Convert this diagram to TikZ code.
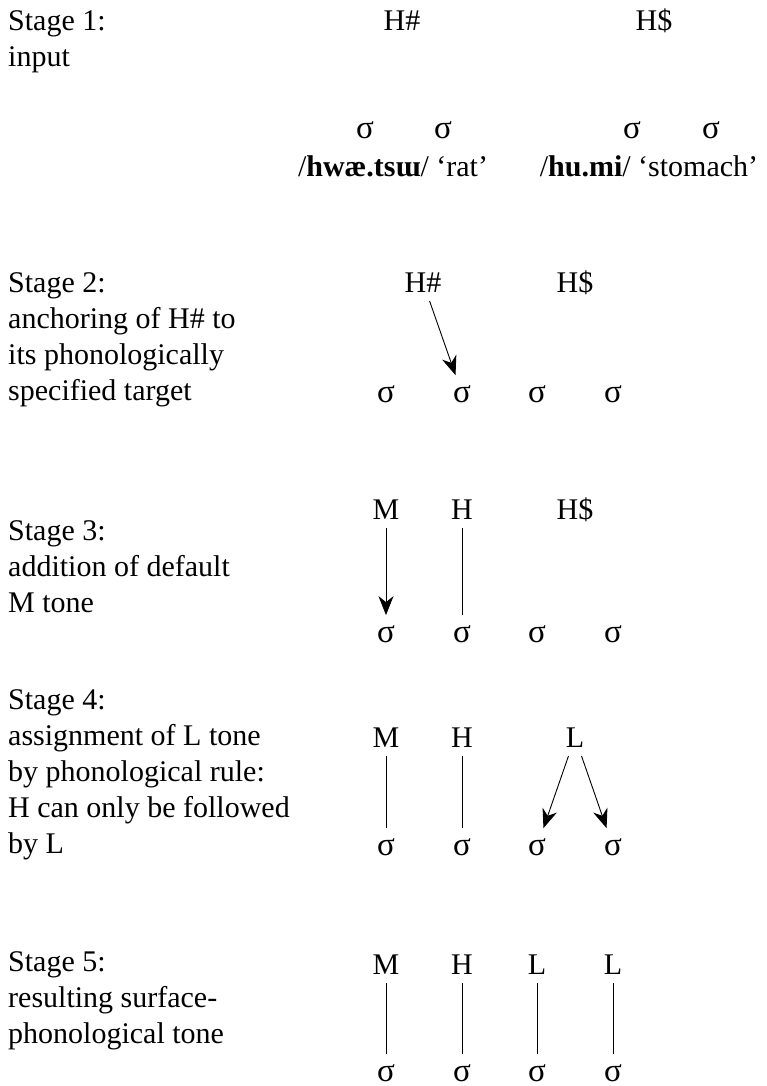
\documentclass[tikz,border=0pt]{standalone}
\usepackage{fontspec}
\setmainfont{Liberation Serif}
\usetikzlibrary{arrows.meta}

\begin{document}
\begin{tikzpicture}[x=1pt,y=-1pt,
  every node/.style={font=\fontsize{30}{36}\selectfont},
  stage/.style={anchor=base west,align=left,inner sep=0pt},
  tone/.style={anchor=base,inner sep=0pt,outer sep=9pt},
  syl/.style={anchor=base,inner sep=0pt,outer sep=10pt,font=\fontsize{33}{36}\selectfont},
  gloss/.style={anchor=base,inner sep=0pt},
  assoc/.style={line width=0.9pt},
  arr/.style={assoc,-{Stealth[length=19pt,width=15pt,inset=6pt]}}]
\useasboundingbox (0,0) rectangle (766,1086);

% base of a stage node = its last line
\node[stage] (st1) at (8,67) {Stage 1:\\input};
\node[tone] (h1a) at (402,31) {H\#};
\node[tone] (h1b) at (654,31) {H\$};
\node[syl] (s1a) at (365,139) {σ};
\node[syl] (s1b) at (443,139) {σ};
\node[syl] (s1c) at (632,139) {σ};
\node[syl] (s1d) at (711,139) {σ};
\node[gloss] (g1a) at (393,177) {/\textbf{hwæ.tsɯ}/ ‘rat’};
\node[gloss] (g1b) at (649,177) {/\textbf{hu.mi}/ ‘stomach’};


\node[stage] (st2) at (8,400) {Stage 2:\\anchoring of H\# to\\its phonologically\\specified target};
\node[tone] (h2a) at (423,292) {H\#};
\node[tone] (h2b) at (575,292) {H\$};
\node[syl] (s2a) at (386,402) {σ};
\node[syl] (s2b) at (462,402) {σ};
\node[syl] (s2c) at (537,402) {σ};
\node[syl] (s2d) at (613,402) {σ};
\draw [arr] (h2a) -- (s2b);


\node[stage] (st3) at (8,612) {Stage 3:\\addition of default\\M tone};
\node[tone] (m3) at (386,519) {M};
\node[tone] (h3a) at (462,519) {H};
\node[tone] (h3b) at (575,519) {H\$};
\node[syl] (s3a) at (386,642) {σ};
\node[syl] (s3b) at (462,642) {σ};
\node[syl] (s3c) at (537,642) {σ};
\node[syl] (s3d) at (613,642) {σ};
\draw [arr] (m3) -- (s3a);
\draw [assoc] (h3a) -- (s3b);


\node[stage] (st4) at (8,853) {Stage 4:\\assignment of L tone\\by phonological rule:\\H can only be followed\\by L};
\node[tone] (m4) at (386,747) {M};
\node[tone] (h4) at (462,747) {H};
\node[tone] (l4) at (575,747) {L};
\node[syl] (s4a) at (386,855) {σ};
\node[syl] (s4b) at (462,855) {σ};
\node[syl] (s4c) at (537,855) {σ};
\node[syl] (s4d) at (613,855) {σ};
\draw [assoc] (m4) -- (s4a);
\draw [assoc] (h4) -- (s4b);
\draw [arr] (l4) -- (s4c);
\draw [arr] (l4) -- (s4d);


\node[stage] (st5) at (8,1043) {Stage 5:\\resulting surface-\\phonological tone};
\node[tone] (m5) at (386,974) {M};
\node[tone] (h5) at (462,974) {H};
\node[tone] (l5a) at (537,974) {L};
\node[tone] (l5b) at (613,974) {L};
\node[syl] (s5a) at (386,1081) {σ};
\node[syl] (s5b) at (462,1081) {σ};
\node[syl] (s5c) at (537,1081) {σ};
\node[syl] (s5d) at (613,1081) {σ};
\draw [assoc] (m5) -- (s5a);
\draw [assoc] (h5) -- (s5b);
\draw [assoc] (l5a) -- (s5c);
\draw [assoc] (l5b) -- (s5d);

\end{tikzpicture}
\end{document}
